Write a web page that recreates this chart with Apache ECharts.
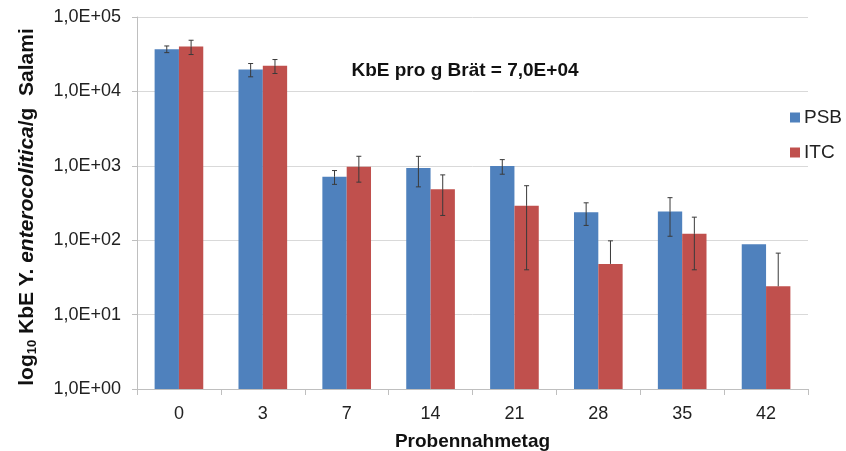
<!DOCTYPE html>
<html>
<head>
<meta charset="utf-8">
<script src="https://cdn.jsdelivr.net/npm/echarts@6/dist/echarts.min.js"></script>
<style>
  html, body { margin: 0; padding: 0; background: #fff; }
  #chart { width: 846px; height: 451px; }
</style>
</head>
<body>
<div id="chart"></div>
<script>
// Sampling days (Probennahmetag)
const days = ['0', '3', '7', '14', '21', '28', '35', '42'];

// Mean counts per g salami, with standard deviations
const psbValues = [37000, 19700, 713, 931, 991, 238, 243, 88];
const psbErrors = [3800, 4000, 150, 410, 220, 80, 130, 0];
const itcValues = [40000, 22100, 973, 485, 290, 48, 122, 24];
const itcErrors = [8700, 4700, 370, 270, 250, 50, 82, 43];

const seriesNames = ['PSB', 'ITC'];
const seriesColors = ['#4F81BD', '#C0504D'];
const headline = 'KbE pro g Brät = 7,0E+04';

const FONT = '"Liberation Sans", Arial, sans-serif';
const BAR_BAND = 0.58; // share of a category taken by the pair of bars

function sciLabel(v) {
  const e = Math.round(Math.log10(v));
  return '1,0E+' + String(e).padStart(2, '0');
}

// Error bar drawn over a bar; the lower half is left out when it would drop to zero or below
function errorBarRenderer(seriesIdx) {
  return function (params, api) {
    const cat = api.value(0);
    const val = api.value(1);
    const err = api.value(2);
    if (!err) return null;
    const bandW = api.size([1, 0])[0] * BAR_BAND;
    const barW = bandW / 2;
    const offset = seriesIdx === 0 ? -barW / 2 : barW / 2;
    const top = api.coord([cat, val + err]);
    const mid = api.coord([cat, val]);
    const x = top[0] + offset;
    const cap = 2.5;
    const style = { stroke: '#3a3a3a', lineWidth: 1 };
    const children = [
      { type: 'line', shape: { x1: x, y1: top[1], x2: x, y2: mid[1] }, style: style },
      { type: 'line', shape: { x1: x - cap, y1: top[1], x2: x + cap, y2: top[1] }, style: style }
    ];
    if (val - err > 0) {
      const bot = api.coord([cat, val - err]);
      children.push(
        { type: 'line', shape: { x1: x, y1: mid[1], x2: x, y2: bot[1] }, style: style },
        { type: 'line', shape: { x1: x - cap, y1: bot[1], x2: x + cap, y2: bot[1] }, style: style }
      );
    }
    return { type: 'group', children: children };
  };
}

function errorData(values, errors) {
  return values.map((v, i) => [i, v, errors[i]]);
}

const chart = echarts.init(document.getElementById('chart'), null, { renderer: 'canvas' });

chart.setOption({
  animation: false,
  textStyle: { fontFamily: FONT },
  grid: { left: 137, right: 38, top: 17, bottom: 62, containLabel: false, outerBoundsMode: 'none' },
  legend: {
    data: seriesNames,
    orient: 'vertical',
    left: 788,
    top: 106,
    icon: 'rect',
    itemWidth: 10,
    itemHeight: 10,
    itemGap: 16,
    itemStyle: { borderWidth: 0 },
    backgroundColor: '#fff',
    padding: [2, 2, 2, 2],
    textStyle: { fontSize: 19, color: '#222', fontFamily: FONT, padding: [0, 0, 0, -1] }
  },
  graphic: [{
    type: 'text',
    x: 465,
    y: 71,
    style: {
      text: headline,
      textAlign: 'center',
      textVerticalAlign: 'middle',
      font: 'bold 19px ' + FONT,
      fill: '#111'
    }
  }],
  xAxis: {
    type: 'category',
    data: days,
    name: 'Probennahmetag',
    nameLocation: 'middle',
    nameGap: 43,
    nameTextStyle: { fontSize: 19, fontWeight: 'bold', color: '#111', fontFamily: FONT },
    axisLine: { lineStyle: { color: '#bfbfbf', width: 1 } },
    axisTick: { show: true, length: 6, lineStyle: { color: '#bfbfbf' } },
    axisLabel: { fontSize: 18, color: '#222', margin: 16, fontFamily: FONT },
    splitLine: { show: false }
  },
  yAxis: {
    type: 'log',
    logBase: 10,
    min: 1,
    max: 100000,
    name: '{s|log}{sub|10}{s| KbE Y. }{i|enterocolitica}{s|/g  Salami}',
    nameLocation: 'middle',
    nameRotate: 90,
    nameGap: 98,
    nameTextStyle: {
      padding: [0, 8, 0, 0],
      rich: {
        s: { fontSize: 21, fontWeight: 'bold', color: '#111', fontFamily: FONT, lineHeight: 24, verticalAlign: 'middle' },
        i: { fontSize: 21, fontWeight: 'bold', fontStyle: 'italic', color: '#111', fontFamily: FONT, lineHeight: 24, verticalAlign: 'middle' },
        sub: { fontSize: 13, fontWeight: 'bold', color: '#111', fontFamily: FONT, lineHeight: 13, verticalAlign: 'bottom' }
      }
    },
    axisLine: { show: true, lineStyle: { color: '#bfbfbf', width: 1 } },
    axisTick: { show: true, length: 5, lineStyle: { color: '#bfbfbf' } },
    axisLabel: { fontSize: 18, color: '#222', margin: 16, fontFamily: FONT, formatter: sciLabel },
    splitLine: { show: true, lineStyle: { color: '#d9d9d9', width: 1 } }
  },
  series: [
    {
      name: seriesNames[0],
      type: 'bar',
      data: psbValues,
      barGap: '0%',
      barCategoryGap: '42%',
      itemStyle: { color: seriesColors[0] }
    },
    {
      name: seriesNames[1],
      type: 'bar',
      data: itcValues,
      barGap: '0%',
      barCategoryGap: '42%',
      itemStyle: { color: seriesColors[1] }
    },
    {
      type: 'custom',
      renderItem: errorBarRenderer(0),
      data: errorData(psbValues, psbErrors),
      encode: { x: 0, y: 1 },
      z: 10,
      silent: true
    },
    {
      type: 'custom',
      renderItem: errorBarRenderer(1),
      data: errorData(itcValues, itcErrors),
      encode: { x: 0, y: 1 },
      z: 10,
      silent: true
    }
  ]
});
</script>
</body>
</html>
